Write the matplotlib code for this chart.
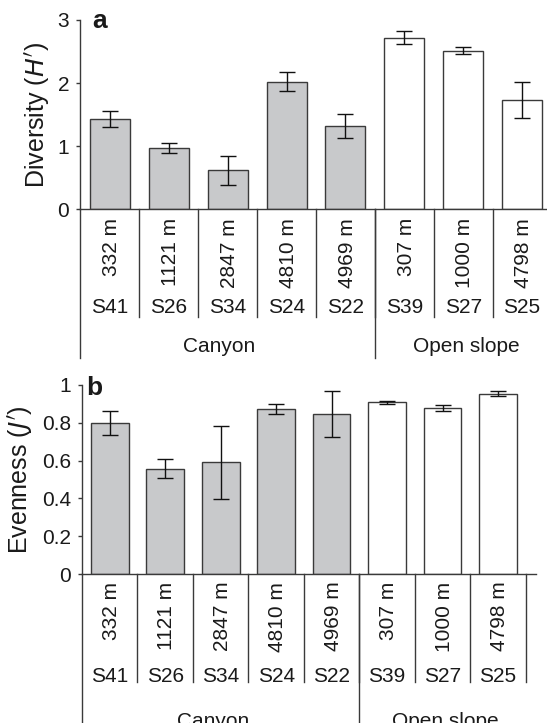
import numpy as np
import matplotlib
matplotlib.use('Agg')
import matplotlib.pyplot as plt
import matplotlib.transforms as mtransforms

plt.rcParams['font.family'] = ['Liberation Sans', 'DejaVu Sans']

# data
sites = ['S41', 'S26', 'S34', 'S24', 'S22', 'S39', 'S27', 'S25']
depths = [332, 1121, 2847, 4810, 4969, 307, 1000, 4798]
groups = ['Canyon'] * 5 + ['Open slope'] * 3

diversity = [1.43, 0.97, 0.62, 2.02, 1.32, 2.72, 2.51, 1.73]
diversity_err = [0.125, 0.085, 0.23, 0.15, 0.19, 0.105, 0.055, 0.28]

evenness = [0.797, 0.556, 0.591, 0.873, 0.845, 0.908, 0.878, 0.954]
evenness_err = [0.063, 0.05, 0.194, 0.026, 0.122, 0.009, 0.014, 0.013]

W, H = 547, 723
fig = plt.figure(figsize=(W / 100, H / 100), dpi=100, facecolor='white')

EDGE = '#3a3a3a'
GREY = '#c8c9cb'
TXT = '#1a1a1a'
bar_colors = [GREY if g == 'Canyon' else 'white' for g in groups]
group_label_x = {'Canyon': 1.86, 'Open slope': 6.05}


def panel(rect_px, xmax, values, errs, ylim, yticks, yticklabels, ylabel,
          ylabel_x, letter, letter_pos, offs):
    # rect_px = (left, right, top, bottom) in pixels from top-left
    l, r, t, b = rect_px
    ax = fig.add_axes([l / W, (H - b) / H, (r - l) / W, (b - t) / H])
    hpx = b - t
    x = np.arange(len(sites))

    ax.bar(x, values, width=0.68, color=bar_colors, edgecolor=EDGE,
           linewidth=1.0, zorder=2,
           yerr=errs, capsize=6,
           error_kw=dict(ecolor='#111111', elinewidth=1.0, capthick=1.0))

    ax.set_xlim(-0.5, xmax)
    ax.set_ylim(*ylim)
    ax.set_yticks(yticks)
    ax.set_yticklabels(yticklabels)
    ax.set_xticks([])
    for s in ['top', 'right']:
        ax.spines[s].set_visible(False)
    for s in ['left', 'bottom']:
        ax.spines[s].set_color(EDGE)
        ax.spines[s].set_linewidth(1.0)
    ax.tick_params(axis='y', direction='out', length=3, width=1.0,
                   color=EDGE, labelsize=15, pad=5, labelcolor=TXT)

    trans = mtransforms.blended_transform_factory(ax.transData, ax.transAxes)
    f = lambda px: -px / hpx

    # site separators
    for xb in list(x[1:] - 0.5) + [x[-1] + 0.5]:
        ax.plot([xb, xb], [0, f(offs['sep'])], color=EDGE, lw=1.0,
                transform=trans, clip_on=False)
    # group separators (left edge and between groups)
    bounds = [-0.5] + [i + 0.5 for i in range(len(groups) - 1)
                       if groups[i] != groups[i + 1]]
    for xb in bounds:
        ax.plot([xb, xb], [0, f(offs['grp'])], color=EDGE, lw=1.0,
                transform=trans, clip_on=False)

    for xi, d, s in zip(x, depths, sites):
        ax.text(xi + 0.03, f(offs['depth']), f'{d} m', rotation=90,
                ha='center', va='top', fontsize=15, transform=trans,
                color=TXT)
        ax.text(xi, f(offs['name']), s, ha='center', va='baseline',
                fontsize=15, transform=trans, color=TXT)
    for g in dict.fromkeys(groups):
        ax.text(group_label_x[g], f(offs['gtext']), g, ha='center',
                va='baseline', fontsize=15, transform=trans, color=TXT)

    ax.text((ylabel_x - l) / (r - l), 0.5, ylabel, rotation=90, ha='center',
            va='center', fontsize=18, transform=ax.transAxes, color=TXT)
    ax.text((letter_pos[0] - l) / (r - l), (b - letter_pos[1]) / hpx, letter,
            fontsize=19, fontweight='bold', ha='left', va='baseline',
            transform=ax.transAxes, color=TXT)
    return ax


top_rect = (80.4, 549.2, 20.0, 209.3)
panel(top_rect, 7.46, diversity, diversity_err, (0, 3), [0, 1, 2, 3],
      ['0', '1', '2', '3'], "Diversity ($\\it{H'}$)", 38, 'a', (92.7, 27.7),
      dict(sep=107.4, grp=148.4, depth=8.7, name=103.7, gtext=142.7))

bot_rect = (81.9, 536.4, 385.0, 574.0)
panel(bot_rect, 7.69, evenness, evenness_err, (0, 1),
      [0, 0.2, 0.4, 0.6, 0.8, 1.0], ['0', '0.2', '0.4', '0.6', '0.8', '1'],
      "Evenness ($\\it{J'}$)", 21, 'b', (86.0, 395.0),
      dict(sep=107.7, grp=160.0, depth=7.7, name=107.7, gtext=153.0))

fig.savefig('out.png', dpi=100, facecolor='white')
